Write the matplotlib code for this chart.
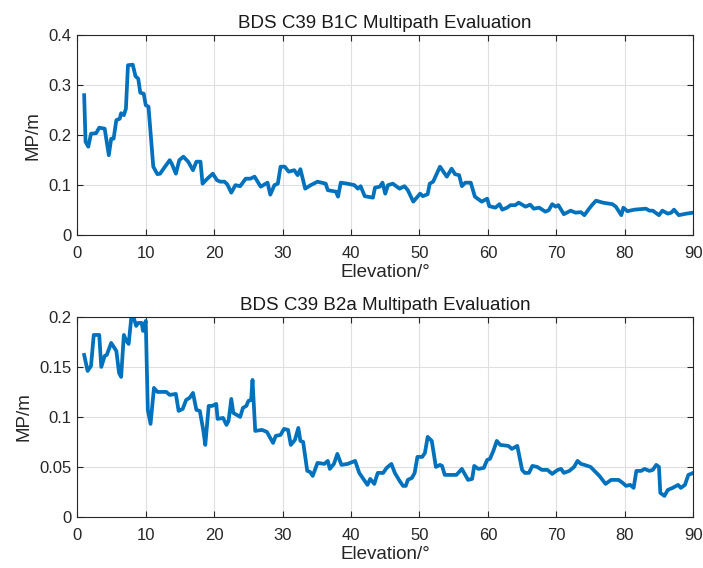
import numpy as np
import matplotlib
matplotlib.use("Agg")
import matplotlib.pyplot as plt

plt.rcParams['font.family'] = ['Liberation Sans', 'DejaVu Sans']

# B1C multipath (elevation in deg, MP in m)
b1c_el = [1.0, 1.2, 1.6, 2.0, 2.75, 3.2, 4.0, 4.6, 4.95, 5.3, 5.7, 6.2, 6.4, 6.8, 7.1, 7.4,
          8.1, 8.5, 8.9, 9.2, 9.7, 10.0, 10.4, 11.1, 11.7, 12.1, 12.6, 13.5, 13.8, 14.4, 14.9,
          15.5, 16.2, 16.9, 17.4, 18.0, 18.3, 19.0, 19.8, 20.4, 20.9, 21.5, 21.9, 22.5, 23.1,
          23.8, 24.6, 25.3, 25.9, 26.8, 27.8, 28.2, 28.8, 29.3, 29.7, 30.3, 30.9, 31.7, 32.2,
          32.6, 33.3, 34.1, 35.1, 36.3, 36.6, 37.8, 38.1, 38.5, 39.5, 40.5, 41.0, 41.4, 42.0,
          43.2, 43.5, 44.2, 44.6, 45.0, 45.4, 46.1, 47.1, 47.8, 48.3, 49.1, 50.1, 50.5, 51.2,
          51.5, 52.0, 53.0, 53.5, 54.0, 54.7, 55.2, 55.8, 56.2, 56.7, 57.5, 58.1, 59.1, 59.9,
          60.2, 61.1, 61.7, 62.1, 62.8, 63.3, 64.0, 64.5, 65.5, 66.2, 66.7, 67.5, 68.4, 68.9,
          69.4, 69.9, 70.3, 71.1, 72.1, 72.8, 73.6, 74.1, 74.8, 75.2, 75.8, 76.8, 78.2, 78.7,
          79.5, 79.8, 80.4, 81.4, 83.1, 83.6, 84.1, 85.0, 85.5, 86.3, 86.8, 87.2, 87.9, 89.0, 90.0]
b1c_mp = [0.280, 0.187, 0.177, 0.203, 0.204, 0.215, 0.213, 0.160, 0.193, 0.193, 0.230, 0.233,
          0.244, 0.240, 0.253, 0.340, 0.341, 0.318, 0.313, 0.285, 0.283, 0.260, 0.257, 0.137,
          0.122, 0.123, 0.133, 0.150, 0.143, 0.123, 0.150, 0.157, 0.147, 0.130, 0.147, 0.147,
          0.103, 0.113, 0.123, 0.110, 0.107, 0.107, 0.102, 0.085, 0.100, 0.098, 0.113, 0.113,
          0.117, 0.097, 0.105, 0.081, 0.100, 0.103, 0.137, 0.137, 0.127, 0.130, 0.120, 0.132,
          0.093, 0.100, 0.107, 0.103, 0.090, 0.087, 0.077, 0.105, 0.103, 0.100, 0.093, 0.098,
          0.078, 0.075, 0.095, 0.097, 0.105, 0.083, 0.100, 0.103, 0.093, 0.098, 0.090, 0.067,
          0.083, 0.078, 0.082, 0.103, 0.107, 0.137, 0.127, 0.117, 0.133, 0.122, 0.120, 0.098,
          0.105, 0.105, 0.077, 0.067, 0.073, 0.058, 0.055, 0.062, 0.051, 0.055, 0.060, 0.060,
          0.065, 0.057, 0.061, 0.053, 0.055, 0.047, 0.050, 0.062, 0.057, 0.060, 0.042, 0.049,
          0.045, 0.046, 0.040, 0.053, 0.060, 0.069, 0.065, 0.062, 0.057, 0.040, 0.055, 0.048,
          0.051, 0.053, 0.049, 0.049, 0.040, 0.049, 0.043, 0.045, 0.051, 0.040, 0.043, 0.045]

# B2a multipath
b2a_el = [1.0, 1.5, 2.0, 2.4, 3.2, 3.5, 4.0, 4.3, 4.95, 5.7, 6.1, 6.4, 6.8, 7.1, 7.5, 7.9,
          8.2, 8.6, 8.9, 9.4, 9.6, 10.0, 10.3, 10.7, 11.2, 11.7, 13.0, 13.5, 14.4, 14.8, 15.4,
          15.9, 16.4, 16.9, 17.4, 17.9, 18.4, 18.7, 19.2, 19.7, 20.3, 20.5, 21.3, 21.8, 22.1,
          22.5, 22.8, 23.8, 24.2, 24.7, 25.0, 25.4, 25.6, 26.0, 27.0, 27.7, 28.6, 29.0, 29.7,
          30.2, 30.8, 31.2, 31.8, 32.3, 32.6, 33.0, 33.6, 34.0, 34.4, 35.1, 36.1, 36.6, 36.9,
          37.5, 38.0, 38.6, 39.5, 40.6, 41.2, 41.9, 42.4, 42.8, 43.4, 43.9, 44.7, 45.2, 45.9,
          46.4, 47.1, 47.6, 48.0, 48.3, 48.9, 49.3, 49.7, 50.4, 50.8, 51.2, 51.8, 52.4, 53.0,
          53.3, 53.7, 54.2, 55.4, 56.2, 57.1, 57.7, 58.0, 58.6, 59.4, 59.9, 60.3, 60.8, 61.3,
          61.8, 63.0, 63.5, 64.3, 65.0, 65.4, 66.0, 66.5, 67.2, 67.9, 68.7, 69.4, 70.2, 70.7,
          71.1, 71.9, 72.6, 73.1, 73.6, 74.1, 75.0, 76.3, 77.2, 78.0, 79.1, 79.7, 80.2, 80.8,
          81.3, 81.7, 82.4, 82.9, 83.6, 84.1, 84.6, 85.0, 85.2, 85.8, 86.3, 87.0, 87.8, 88.2,
          88.8, 89.3, 90.0]
b2a_mp = [0.162, 0.146, 0.151, 0.182, 0.182, 0.150, 0.161, 0.162, 0.174, 0.166, 0.144, 0.140,
          0.182, 0.177, 0.173, 0.200, 0.200, 0.191, 0.194, 0.194, 0.186, 0.196, 0.107, 0.093,
          0.129, 0.125, 0.125, 0.122, 0.123, 0.106, 0.108, 0.117, 0.119, 0.124, 0.107, 0.106,
          0.087, 0.072, 0.111, 0.111, 0.113, 0.098, 0.099, 0.092, 0.096, 0.118, 0.104, 0.100,
          0.109, 0.111, 0.116, 0.117, 0.137, 0.086, 0.087, 0.085, 0.074, 0.081, 0.082, 0.088,
          0.087, 0.072, 0.077, 0.089, 0.076, 0.075, 0.046, 0.045, 0.041, 0.054, 0.053, 0.056,
          0.048, 0.053, 0.063, 0.052, 0.053, 0.056, 0.044, 0.037, 0.032, 0.038, 0.033, 0.044,
          0.044, 0.049, 0.053, 0.044, 0.036, 0.031, 0.031, 0.037, 0.039, 0.044, 0.060, 0.060,
          0.064, 0.080, 0.076, 0.050, 0.052, 0.051, 0.042, 0.042, 0.042, 0.048, 0.037, 0.038,
          0.051, 0.048, 0.049, 0.057, 0.058, 0.066, 0.076, 0.072, 0.071, 0.068, 0.071, 0.047,
          0.044, 0.044, 0.051, 0.050, 0.047, 0.047, 0.043, 0.047, 0.048, 0.044, 0.046, 0.050,
          0.056, 0.053, 0.052, 0.050, 0.041, 0.033, 0.037, 0.037, 0.034, 0.031, 0.032, 0.029,
          0.046, 0.046, 0.048, 0.046, 0.047, 0.052, 0.050, 0.024, 0.021, 0.027, 0.029, 0.032,
          0.029, 0.032, 0.042, 0.044]

fig = plt.figure(figsize=(7.03, 5.68), dpi=100)
ax1 = fig.add_axes([0.110, 0.586, 0.876, 0.352])
ax2 = fig.add_axes([0.110, 0.090, 0.876, 0.352])

panels = [(ax1, b1c_el, b1c_mp, 'BDS C39 B1C Multipath Evaluation', 0.4, [0, 0.1, 0.2, 0.3, 0.4]),
          (ax2, b2a_el, b2a_mp, 'BDS C39 B2a Multipath Evaluation', 0.2, [0, 0.05, 0.1, 0.15, 0.2])]

for ax, el, mp, title, ymax, yt in panels:
    ax.plot(el, mp, color='#0072BD', lw=2.7, solid_joinstyle='round')
    ax.set_xlim(0, 90)
    ax.set_ylim(0, ymax)
    ax.set_xticks(np.arange(0, 91, 10))
    ax.set_yticks(yt)
    ax.set_yticklabels([('%g' % v) for v in yt])
    ax.grid(True, color='#dfdfdf', lw=0.8)
    ax.set_axisbelow(True)
    for s in ax.spines.values():
        s.set_color('#262626')
        s.set_linewidth(0.8)
    ax.tick_params(direction='in', top=True, right=True, labelsize=12,
                   colors='#262626', length=4, width=0.8)
    ax.tick_params(axis='x', pad=8)
    ax.tick_params(axis='y', pad=4)
    ax.set_title(title, fontsize=13.5, color='#1a1a1a', pad=5)
    ax.set_xlabel('Elevation/°', fontsize=13.5, color='#262626', labelpad=2)
    ax.set_ylabel('MP/m', fontsize=13.5, color='#262626', labelpad=5)

fig.savefig('out.png', dpi=100)
